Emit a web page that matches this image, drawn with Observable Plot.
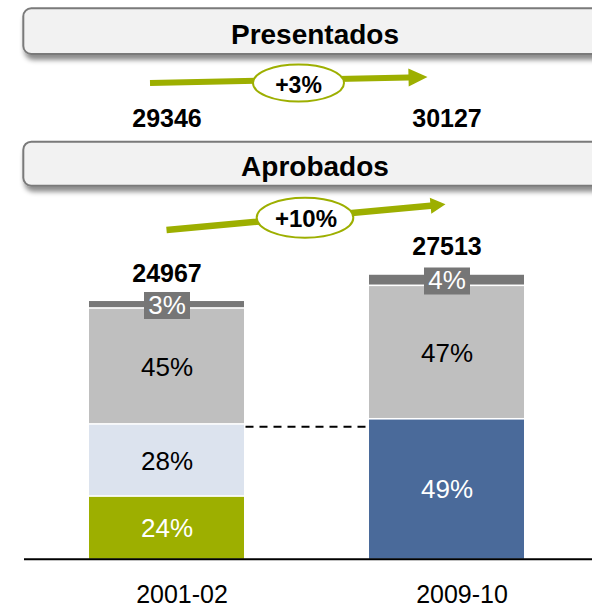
<!DOCTYPE html>
<html>
<head>
<meta charset="utf-8">
<script src="https://cdn.jsdelivr.net/npm/d3@7"></script>
<script src="https://cdn.jsdelivr.net/npm/@observablehq/plot@0.6"></script>
<style>
  html, body { margin: 0; padding: 0; background: #ffffff; }
  #chart { width: 592px; height: 611px; overflow: hidden; }
  #chart svg { display: block; }
</style>
</head>
<body>
<div id="chart"></div>
<script>
// ---- data ----
const years = ["2001-02", "2009-10"];
const presentados = [29346, 30127];
const aprobados = [24967, 27513];
const segmentKeys = ["verde", "azulClaro", "azul", "gris", "grisOscuro"];
const pct2001 = [24, 28, null, 45, 3];
const pct2009 = [null, null, 49, 47, 4];
const headerTitles = ["Presentados", "Aprobados"];

// ---- styles ----
const segmentColors = ["#9DAF00", "#DCE3EE", "#4A6A9A", "#BFBFBF", "#777777"];
const darkText = new Set(["azulClaro", "gris"]);
const FONT = "'Liberation Sans', Arial, Helvetica, sans-serif";
const GREEN = "#9DAF00";

// ---- derived tables ----
const segs = [];
[pct2001, pct2009].forEach((pcts, i) => {
  let acc = 0;
  pcts.forEach((p, k) => {
    if (p == null) return;
    const v = aprobados[i] * p / 100;
    segs.push({year: years[i], key: segmentKeys[k], pct: p, y1: acc, y2: acc + v, mid: acc + v / 2});
    acc += v;
  });
});
const totals = years.map((y, i) => ({year: y, total: aprobados[i]}));
const pres = years.map((y, i) => ({year: y, value: presentados[i]}));
const dashLevel = segs.find(d => d.year === years[0] && d.key === "azulClaro").y2;

const boxSymbol = {
  draw(ctx) {
    ctx.moveTo(-23, -13.5); ctx.lineTo(23, -13.5); ctx.lineTo(23, 13.5); ctx.lineTo(-23, 13.5); ctx.closePath();
  }
};

const k = 0.01032;
const y0px = 558.7;

const chart = Plot.plot({
  width: 592,
  height: 611,
  marginTop: 0,
  marginRight: 0,
  marginBottom: 52,
  marginLeft: 24,
  style: {fontFamily: FONT, background: "transparent", overflow: "visible"},
  x: {type: "band", domain: years, range: [89, 524], paddingInner: 125 / 280, paddingOuter: 0, align: 0.5, label: null},
  y: {domain: [0, 30000], range: [y0px, y0px - 30000 * k], axis: null},
  color: {domain: segmentKeys, range: segmentColors},
  marks: [
    Plot.link([dashLevel], {
      x1: () => years[0], x2: () => years[1], y1: d => d, y2: d => d,
      stroke: "#000", strokeWidth: 2, strokeDasharray: "8,6", strokeDashoffset: 5.5, dy: 1.5
    }),
    Plot.barY(segs.filter(d => d.y1 === 0), {x: "year", y1: "y1", y2: "y2", fill: "key"}),
    Plot.barY(segs.filter(d => d.y1 > 0), {x: "year", y1: "y1", y2: "y2", fill: "key", insetBottom: 1.6}),
    Plot.text(segs.filter(d => d.pct >= 10 && darkText.has(d.key)), {
      x: "year", y: "mid", text: d => d.pct + "%", fill: "#000", fontSize: 26
    }),
    Plot.text(segs.filter(d => d.pct >= 10 && !darkText.has(d.key)), {
      x: "year", y: "mid", text: d => d.pct + "%", fill: "#fff", fontSize: 26
    }),
    Plot.dot(segs.filter(d => d.pct < 10), {
      x: "year", y: "mid", symbol: boxSymbol, fill: "#767676", stroke: "none"
    }),
    Plot.text(segs.filter(d => d.pct < 10), {
      x: "year", y: "mid", text: d => d.pct + "%", fill: "#fff", fontSize: 26
    }),
    Plot.text(totals, {
      x: "year", y: "total", text: d => String(d.total), dy: -20, lineAnchor: "bottom",
      fontWeight: "bold", fontSize: 25, fill: "#000"
    }),
    Plot.text(pres, {
      x: "year", frameAnchor: "top", dy: 126, lineAnchor: "bottom", text: d => String(d.value),
      fontWeight: "bold", fontSize: 25, fill: "#000"
    }),
    Plot.ruleY([0], {stroke: "#000", strokeWidth: 2}),
    Plot.axisX({tickSize: 0, tickPadding: 26, dx: 15, fontSize: 25, fill: "#000", label: null})
  ]
});

document.getElementById("chart").appendChild(chart);

// ---- annotations (headers, growth arrows) ----
const xs = chart.scale("x");
const bw = xs.bandwidth;
const c1 = xs.apply(years[0]) + bw / 2;
const c2 = xs.apply(years[1]) + bw / 2;

const svg = d3.select(chart);
const defs = svg.append("defs");
defs.append("filter").attr("id", "hdrShadow")
  .attr("x", "-5%").attr("y", "-30%").attr("width", "115%").attr("height", "180%")
  .append("feDropShadow").attr("dx", 2).attr("dy", 5).attr("stdDeviation", 2.5)
  .attr("flood-color", "#000").attr("flood-opacity", 0.45);

const headers = [
  {text: headerTitles[0], y: 8.3, h: 45.7, base: 43.5},
  {text: headerTitles[1], y: 141.7, h: 44, base: 175.5}
];
const hg = svg.append("g");
headers.forEach(h => {
  hg.append("rect").attr("x", 23.3).attr("y", h.y).attr("width", 585).attr("height", h.h)
    .attr("rx", 8).attr("fill", "#F2F2F2").attr("stroke", "#7A7A7A").attr("stroke-width", 2)
    .attr("filter", "url(#hdrShadow)");
  hg.append("text").attr("x", 315).attr("y", h.base).attr("text-anchor", "middle")
    .attr("font-family", FONT).attr("font-weight", "bold").attr("font-size", 28).attr("fill", "#000")
    .text(h.text);
});

function arrowPath(x0, y0, x1, y1, w, hl, hw) {
  const dx = x1 - x0, dy = y1 - y0, L = Math.hypot(dx, dy);
  const ux = dx / L, uy = dy / L, nx = -uy, ny = ux;
  const bx = x1 - ux * hl, by = y1 - uy * hl;
  const p = [
    [x0 + nx * w / 2, y0 + ny * w / 2],
    [bx + nx * w / 2, by + ny * w / 2],
    [bx + nx * hw, by + ny * hw],
    [x1, y1],
    [bx - nx * hw, by - ny * hw],
    [bx - nx * w / 2, by - ny * w / 2],
    [x0 - nx * w / 2, y0 - ny * w / 2]
  ];
  return "M" + p.map(q => q.join(",")).join("L") + "Z";
}

const growth = [
  {from: presentados[0], to: presentados[1], x0: c1 - 16.5, y0: 83, x1: c2 - 19, y1: 77, w: 6, hl: 19, hw: 9,
   ex: 298.5, ey: 83, rx: 45.5, ry: 18.5, tx: 298.5, ty: 93, fs: 23},
  {from: aprobados[0], to: aprobados[1], x0: c1, y0: 230, x1: c2 - 1, y1: 204.3, w: 6.5, hl: 15, hw: 8,
   ex: 305, ey: 217.7, rx: 48.3, ry: 20, tx: 306, ty: 226.5, fs: 24}
];
const ag = svg.append("g");
growth.forEach(g => {
  ag.append("path").attr("d", arrowPath(g.x0, g.y0, g.x1, g.y1, g.w, g.hl, g.hw)).attr("fill", GREEN);
  ag.append("ellipse").attr("cx", g.ex).attr("cy", g.ey).attr("rx", g.rx).attr("ry", g.ry)
    .attr("fill", "#fff").attr("stroke", GREEN).attr("stroke-width", 2);
  const pctChange = Math.round((g.to / g.from - 1) * 100);
  ag.append("text").attr("x", g.tx).attr("y", g.ty).attr("text-anchor", "middle")
    .attr("font-family", FONT).attr("font-weight", "bold").attr("font-size", g.fs).attr("fill", "#000")
    .text((pctChange >= 0 ? "+" : "") + pctChange + "%");
});
</script>
</body>
</html>
